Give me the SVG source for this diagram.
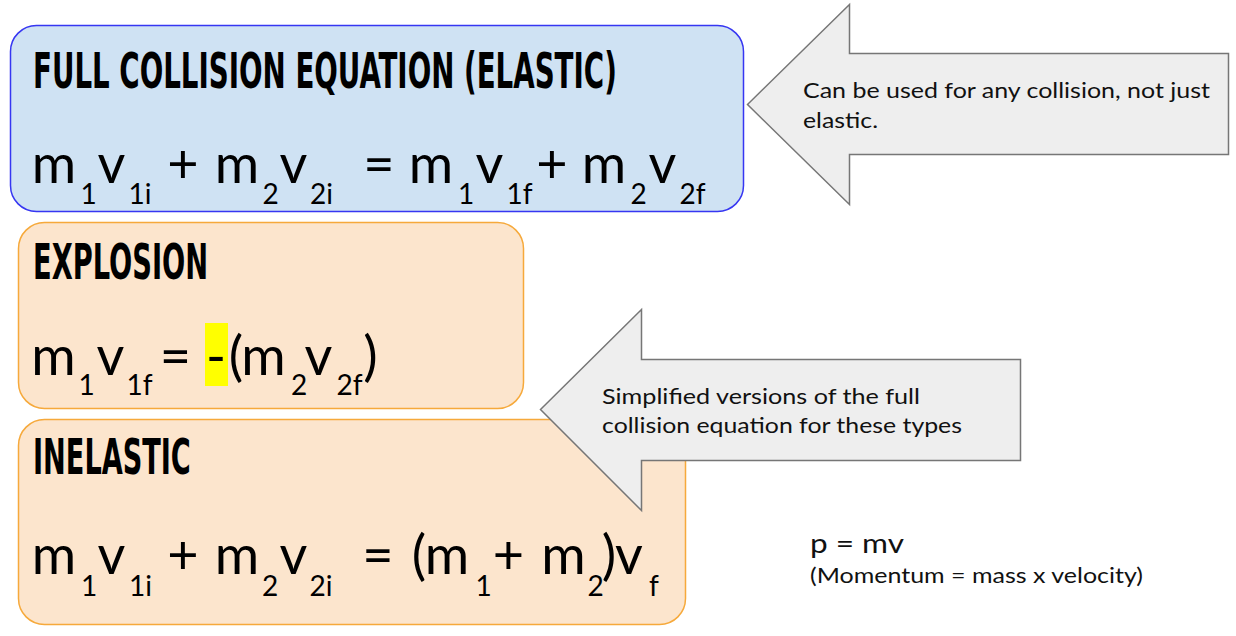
<svg xmlns="http://www.w3.org/2000/svg" width="1236" height="636" viewBox="0 0 1236 636">
<style>
  .title{font-family:"DejaVu Sans Condensed","DejaVu Sans",sans-serif;font-weight:bold;font-size:50px;fill:#000}
  .eq{font-family:Lato,"Open Sans",sans-serif;font-size:54px;fill:#000;text-anchor:middle}
  .sub{font-family:Lato,"Open Sans",sans-serif;font-size:28px;fill:#000;text-anchor:middle}
  .note{font-family:Lato,"Noto Sans",sans-serif;font-size:22px;fill:#111}
  .blue{fill:#cfe2f3;stroke:#3636f2;stroke-width:1.5}
  .orange{fill:#fce5cd;stroke:#f6a93b;stroke-width:1.5}
  .arrow{fill:#eeeeee;stroke:#767676;stroke-width:1.5;stroke-linejoin:miter}
</style>
<rect width="1236" height="636" fill="#ffffff"/>

<g id="elastic">
  <rect class="blue" x="10.5" y="25.5" width="733" height="186" rx="26"/>
  <text class="title" transform="translate(33,88) scale(0.6,1)" x="0" y="0" textLength="973" lengthAdjust="spacingAndGlyphs">FULL COLLISION EQUATION (ELASTIC)</text>
  <text class="eq" y="183"><tspan x="54">m</tspan><tspan x="111.5">v</tspan><tspan x="183">+</tspan><tspan x="237">m</tspan><tspan x="293.5">v</tspan><tspan x="379">=</tspan><tspan x="431">m</tspan><tspan x="489.5">v</tspan><tspan x="552">+</tspan><tspan x="604">m</tspan><tspan x="662.5">v</tspan></text>
  <text class="sub" y="204"><tspan x="88.5">1</tspan><tspan x="140">1i</tspan><tspan x="270.5">2</tspan><tspan x="321.5">2i</tspan><tspan x="466">1</tspan><tspan x="519.5">1f</tspan><tspan x="638.5">2</tspan><tspan x="692.5">2f</tspan></text>
</g>

<g id="explosion">
  <rect class="orange" x="18.5" y="222.5" width="505" height="186" rx="26"/>
  <text class="title" transform="translate(33,279) scale(0.6,1)" x="0" y="0" textLength="292" lengthAdjust="spacingAndGlyphs">EXPLOSION</text>
  <rect x="205" y="323" width="23" height="63" fill="#ffff00"/>
  <text class="eq" y="375"><tspan x="53.5">m</tspan><tspan x="110.5">v</tspan><tspan x="175.5">=</tspan><tspan x="216">-</tspan><tspan x="236">(</tspan><tspan x="263.5">m</tspan><tspan x="318.5">v</tspan><tspan x="370.5">)</tspan></text>
  <text class="sub" y="395"><tspan x="86.5">1</tspan><tspan x="139.5">1f</tspan><tspan x="299">2</tspan><tspan x="349.5">2f</tspan></text>
</g>

<g id="inelastic">
  <rect class="orange" x="18.5" y="419.5" width="667" height="205" rx="26"/>
  <text class="title" transform="translate(33,474) scale(0.6,1)" x="0" y="0" textLength="263" lengthAdjust="spacingAndGlyphs">INELASTIC</text>
  <text class="eq" y="574"><tspan x="54">m</tspan><tspan x="111.5">v</tspan><tspan x="183">+</tspan><tspan x="237">m</tspan><tspan x="293.5">v</tspan><tspan x="378">=</tspan><tspan x="419">(</tspan><tspan x="447">m</tspan><tspan x="508.5">+</tspan><tspan x="563.5">m</tspan><tspan x="609">)</tspan><tspan x="629">v</tspan></text>
  <text class="sub" y="596"><tspan x="89">1</tspan><tspan x="140.5">1i</tspan><tspan x="270">2</tspan><tspan x="321">2i</tspan><tspan x="483.5">1</tspan><tspan x="595.5">2</tspan><tspan x="654">f</tspan></text>
</g>

<g id="note-any-collision">
  <polygon class="arrow" points="747.5,104.5 849.5,4.5 849.5,53.5 1228.5,53.5 1228.5,154.5 849.5,154.5 849.5,204.5"/>
  <text class="note" x="803" y="98" textLength="407" lengthAdjust="spacingAndGlyphs">Can be used for any collision, not just</text>
  <text class="note" x="803" y="128" textLength="75" lengthAdjust="spacingAndGlyphs">elastic.</text>
</g>

<g id="note-simplified">
  <polygon class="arrow" points="540.5,409.5 641.5,309.5 641.5,359.5 1020.5,359.5 1020.5,460.5 641.5,460.5 641.5,510.5"/>
  <text class="note" x="602" y="404" textLength="318" lengthAdjust="spacingAndGlyphs">Simplified versions of the full</text>
  <text class="note" x="602" y="433" textLength="360" lengthAdjust="spacingAndGlyphs">collision equation for these types</text>
</g>

<g id="momentum">
  <text class="note" x="810" y="553" style="font-size:27px" textLength="94" lengthAdjust="spacingAndGlyphs">p = mv</text>
  <text class="note" x="810" y="583" style="font-size:21px" textLength="333" lengthAdjust="spacingAndGlyphs">(Momentum = mass x velocity)</text>
</g>
</svg>
